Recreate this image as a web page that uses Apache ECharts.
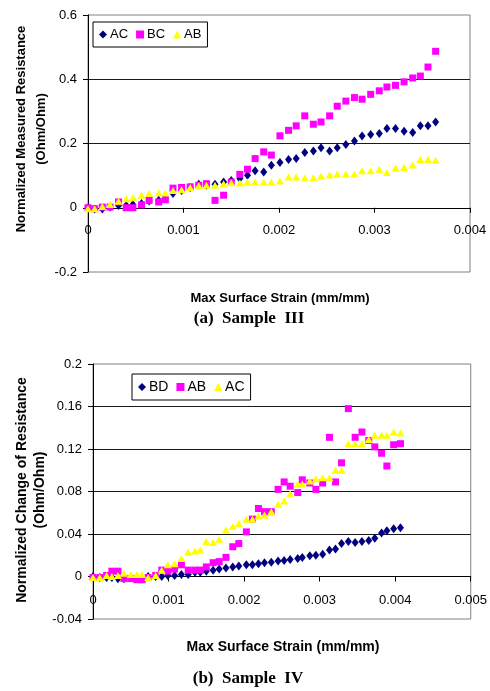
<!DOCTYPE html>
<html>
<head>
<meta charset="utf-8">
<script src="https://cdn.jsdelivr.net/npm/echarts@6/dist/echarts.min.js"></script>
<style>
html,body{margin:0;padding:0;background:#fff;width:490px;height:691px;overflow:hidden;}
#c1{position:absolute;left:0;top:0;width:490px;height:345px;}
#c2{position:absolute;left:0;top:345px;width:490px;height:346px;}
</style>
</head>
<body>
<div id="c1"></div>
<div id="c2"></div>
<script>
// ---------- Sample III ----------
var strainIII = [0, 0.00007, 0.00015, 0.00023, 0.00032, 0.00040, 0.00047, 0.00056, 0.00064, 0.00074,
  0.00081, 0.00089, 0.00098, 0.00107, 0.00116, 0.00124, 0.00133, 0.00142, 0.00150, 0.00159,
  0.00167, 0.00175, 0.00184, 0.00192, 0.00201, 0.00210, 0.00218, 0.00227, 0.00236, 0.00244,
  0.00253, 0.00261, 0.00270, 0.00279, 0.00287, 0.00296, 0.00305, 0.00313, 0.00322, 0.00331,
  0.00340, 0.00348, 0.00356, 0.00364];
var acIII = [0, -0.004, -0.004, 0.002, 0.007, 0.007, 0.010, 0.013, 0.021, 0.023,
  0.028, 0.044, 0.054, 0.063, 0.073, 0.070, 0.073, 0.080, 0.085, 0.091,
  0.101, 0.115, 0.111, 0.132, 0.141, 0.150, 0.153, 0.172, 0.177, 0.187,
  0.177, 0.187, 0.197, 0.208, 0.223, 0.228, 0.231, 0.247, 0.247, 0.238,
  0.234, 0.255, 0.255, 0.267];
var bcIII = [0, -0.003, 0.002, 0.002, 0.018, 0, 0, 0.009, 0.023, 0.018,
  0.025, 0.061, 0.063, 0.065, 0.070, 0.075, 0.023, 0.039, 0.080, 0.104,
  0.120, 0.153, 0.174, 0.164, 0.224, 0.241, 0.255, 0.286, 0.260, 0.267,
  0.286, 0.316, 0.332, 0.343, 0.338, 0.353, 0.364, 0.376, 0.381, 0.392,
  0.404, 0.410, 0.438, 0.487];
var abIII = [-0.003, -0.003, 0.004, 0.010, 0.020, 0.028, 0.031, 0.039, 0.044, 0.047,
  0.046, 0.054, 0.056, 0.063, 0.069, 0.070, 0.070, 0.075, 0.078, 0.077,
  0.080, 0.080, 0.080, 0.080, 0.083, 0.096, 0.096, 0.093, 0.093, 0.099,
  0.102, 0.105, 0.105, 0.105, 0.115, 0.115, 0.120, 0.110, 0.124, 0.125,
  0.133, 0.150, 0.150, 0.148];
var yTicksIII = [-0.2, 0, 0.2, 0.4, 0.6];
var xTicksIII = [0, 0.001, 0.002, 0.003, 0.004];

// ---------- Sample IV ----------
var strainIV = [0, 0.00009, 0.00018, 0.00025, 0.00033, 0.00041, 0.00050, 0.00058, 0.00065, 0.00073,
  0.00083, 0.00091, 0.00099, 0.00108, 0.00117, 0.00126, 0.00135, 0.00142, 0.00150, 0.00159,
  0.00167, 0.00176, 0.00185, 0.00193, 0.00203, 0.00211, 0.00219, 0.00227, 0.00236, 0.00245,
  0.00253, 0.00261, 0.00271, 0.00277, 0.00287, 0.00295, 0.00304, 0.00313, 0.00321, 0.00329,
  0.00338, 0.00347, 0.00356, 0.00365, 0.00373, 0.00382, 0.00389, 0.00398, 0.00407];
var bdIV = [0, -0.001, -0.001, -0.001, -0.002, -0.002, -0.001, -0.001, -0.001, 0,
  0, 0.000, 0.001, 0.001, 0.002, 0.002, 0.004, 0.004, 0.005, 0.006,
  0.007, 0.008, 0.009, 0.010, 0.011, 0.011, 0.012, 0.013, 0.0135, 0.0145,
  0.015, 0.016, 0.017, 0.018, 0.0195, 0.020, 0.021, 0.025, 0.026, 0.031,
  0.033, 0.032, 0.033, 0.034, 0.036, 0.041, 0.043, 0.045, 0.046];
var abIV = [-0.001, -0.001, 0.001, 0.005, 0.005, -0.002, -0.002, -0.003, -0.003, -0.001,
  0.001, 0.006, 0.005, 0.007, 0.011, 0.006, 0.006, 0.006, 0.009, 0.013,
  0.014, 0.018, 0.028, 0.031, 0.042, 0.054, 0.064, 0.061, 0.061, 0.082,
  0.089, 0.085, 0.079, 0.091, 0.088, 0.082, 0.088, 0.131, 0.089, 0.107,
  0.158, 0.131, 0.136, 0.128, 0.122, 0.116, 0.104, 0.124, 0.125];
var acIV = [-0.001, -0.001, 0.001, 0, 0.001, 0.003, 0.002, 0.002, 0.002, -0.001,
  0.001, 0.006, 0.011, 0.012, 0.017, 0.023, 0.024, 0.025, 0.033, 0.032,
  0.035, 0.044, 0.047, 0.050, 0.054, 0.054, 0.057, 0.058, 0.061, 0.068,
  0.071, 0.078, 0.087, 0.087, 0.090, 0.092, 0.093, 0.093, 0.100, 0.100,
  0.125, 0.125, 0.125, 0.129, 0.133, 0.133, 0.133, 0.136, 0.135];
var yTicksIV = [-0.04, 0, 0.04, 0.08, 0.12, 0.16, 0.2];
var xTicksIV = [0, 0.001, 0.002, 0.003, 0.004, 0.005];

function pairs(xs, ys) { return xs.map(function (x, i) { return [x, ys[i]]; }); }
function fmt(v) { return String(parseFloat(v.toFixed(4))); }

var NAVY = '#000080', MAG = '#FF00FF', YEL = '#FFFF00';
var FONT = 'Arial, "Liberation Sans", sans-serif';
var SERIF = '"Liberation Serif", "Times New Roman", serif';

function makeOption(cfg) {
  var yMin = cfg.yTicks[0], yMax = cfg.yTicks[cfg.yTicks.length - 1];
  // x axis sits on the y = 0 line: shift it up from the grid bottom by the zero position
  var zeroOffset = -cfg.grid[3] * (0 - yMin) / (yMax - yMin);
  return {
    animation: false,
    backgroundColor: '#fff',
    grid: {
      left: cfg.grid[0], top: cfg.grid[1], width: cfg.grid[2], height: cfg.grid[3],
      show: true, borderColor: '#808080', borderWidth: 1, backgroundColor: 'transparent'
    },
    legend: {
      left: cfg.legend[0], top: cfg.legend[1],
      orient: 'horizontal',
      borderColor: '#000', borderWidth: 1, backgroundColor: '#fff',
      padding: [6, 6, 6, 6],
      itemWidth: 8, itemHeight: 8, itemGap: cfg.legendGap,
      textStyle: { fontFamily: FONT, fontSize: cfg.legendFont, color: '#000', padding: [0, 0, 0, -2] },
      data: cfg.series.map(function (s) { return s.name; })
    },
    xAxis: {
      type: 'value', min: cfg.xTicks[0], max: cfg.xTicks[cfg.xTicks.length - 1],
      interval: cfg.xTicks[1] - cfg.xTicks[0],
      position: 'bottom', offset: zeroOffset,
      axisLine: { show: true, onZero: false, lineStyle: { color: '#000', width: 1 } },
      axisTick: { show: true, length: 5, lineStyle: { color: '#000' } },
      axisLabel: { margin: cfg.xMargin, fontFamily: FONT, fontSize: 13, color: '#000', formatter: fmt,
        showMinLabel: true, showMaxLabel: true },
      splitLine: { show: false }
    },
    yAxis: {
      type: 'value', min: yMin, max: yMax,
      interval: cfg.yTicks[1] - cfg.yTicks[0],
      axisLine: { show: true, lineStyle: { color: '#000', width: 1 } },
      axisTick: { show: true, length: 5, lineStyle: { color: '#000' } },
      axisLabel: { margin: 11, fontFamily: FONT, fontSize: 13, color: '#000', formatter: fmt },
      splitLine: { show: true, showMinLine: false, showMaxLine: false, lineStyle: { color: '#1a1a1a', width: 1 } }
    },
    series: cfg.series.map(function (s) {
      return {
        type: 'scatter', name: s.name, data: s.data, symbol: s.symbol, symbolSize: s.size,
        itemStyle: { color: s.color, opacity: 1 }, z: s.z
      };
    }),
    graphic: cfg.graphic
  };
}

var c1 = echarts.init(document.getElementById('c1'));
c1.setOption(makeOption({
  grid: [88, 15, 382, 257],
  legend: [93, 22], legendFont: 13, legendGap: 8,
  xTicks: xTicksIII, yTicks: yTicksIII, xMargin: 16,
  series: [
    { name: 'AC', data: pairs(strainIII, acIII), symbol: 'diamond', size: [7, 9], color: NAVY, z: 2 },
    { name: 'BC', data: pairs(strainIII, bcIII), symbol: 'rect', size: [7, 7], color: MAG, z: 3 },
    { name: 'AB', data: pairs(strainIII, abIII), symbol: 'triangle', size: [8, 7], color: YEL, z: 4 }
  ],
  graphic: [
    { type: 'text', x: 31, y: 129, rotation: Math.PI / 2,
      style: { text: 'Normalized Measured Resistance\n(Ohm/Ohm)', align: 'center', verticalAlign: 'middle',
        font: 'bold 13px ' + FONT, lineHeight: 20, fill: '#000' } },
    { type: 'text', x: 280, y: 298,
      style: { text: 'Max Surface Strain (mm/mm)', align: 'center', verticalAlign: 'middle',
        font: 'bold 13px ' + FONT, fill: '#000' } },
    { type: 'text', x: 249, y: 319,
      style: { text: '(a)  Sample  III', align: 'center', verticalAlign: 'middle',
        font: 'bold 17px ' + SERIF, fill: '#000' } }
  ]
}));

var c2 = echarts.init(document.getElementById('c2'));
c2.setOption(makeOption({
  grid: [93, 19, 379, 255],
  legend: [132, 29], legendFont: 14, legendGap: 8,
  xTicks: xTicksIV, yTicks: yTicksIV, xMargin: 17,
  series: [
    { name: 'BD', data: pairs(strainIV, bdIV), symbol: 'diamond', size: [7, 9], color: NAVY, z: 2 },
    { name: 'AB', data: pairs(strainIV, abIV), symbol: 'rect', size: [7, 7], color: MAG, z: 3 },
    { name: 'AC', data: pairs(strainIV, acIV), symbol: 'triangle', size: [8, 7], color: YEL, z: 4 }
  ],
  graphic: [
    { type: 'text', x: 31, y: 145, rotation: Math.PI / 2,
      style: { text: 'Normalized Change of Resistance\n(Ohm/Ohm)', align: 'center', verticalAlign: 'middle',
        font: 'bold 14px ' + FONT, lineHeight: 18, fill: '#000' } },
    { type: 'text', x: 283, y: 302,
      style: { text: 'Max Surface Strain (mm/mm)', align: 'center', verticalAlign: 'middle',
        font: 'bold 14px ' + FONT, fill: '#000' } },
    { type: 'text', x: 248, y: 334,
      style: { text: '(b)  Sample  IV', align: 'center', verticalAlign: 'middle',
        font: 'bold 17px ' + SERIF, fill: '#000' } }
  ]
}));
</script>
</body>
</html>
